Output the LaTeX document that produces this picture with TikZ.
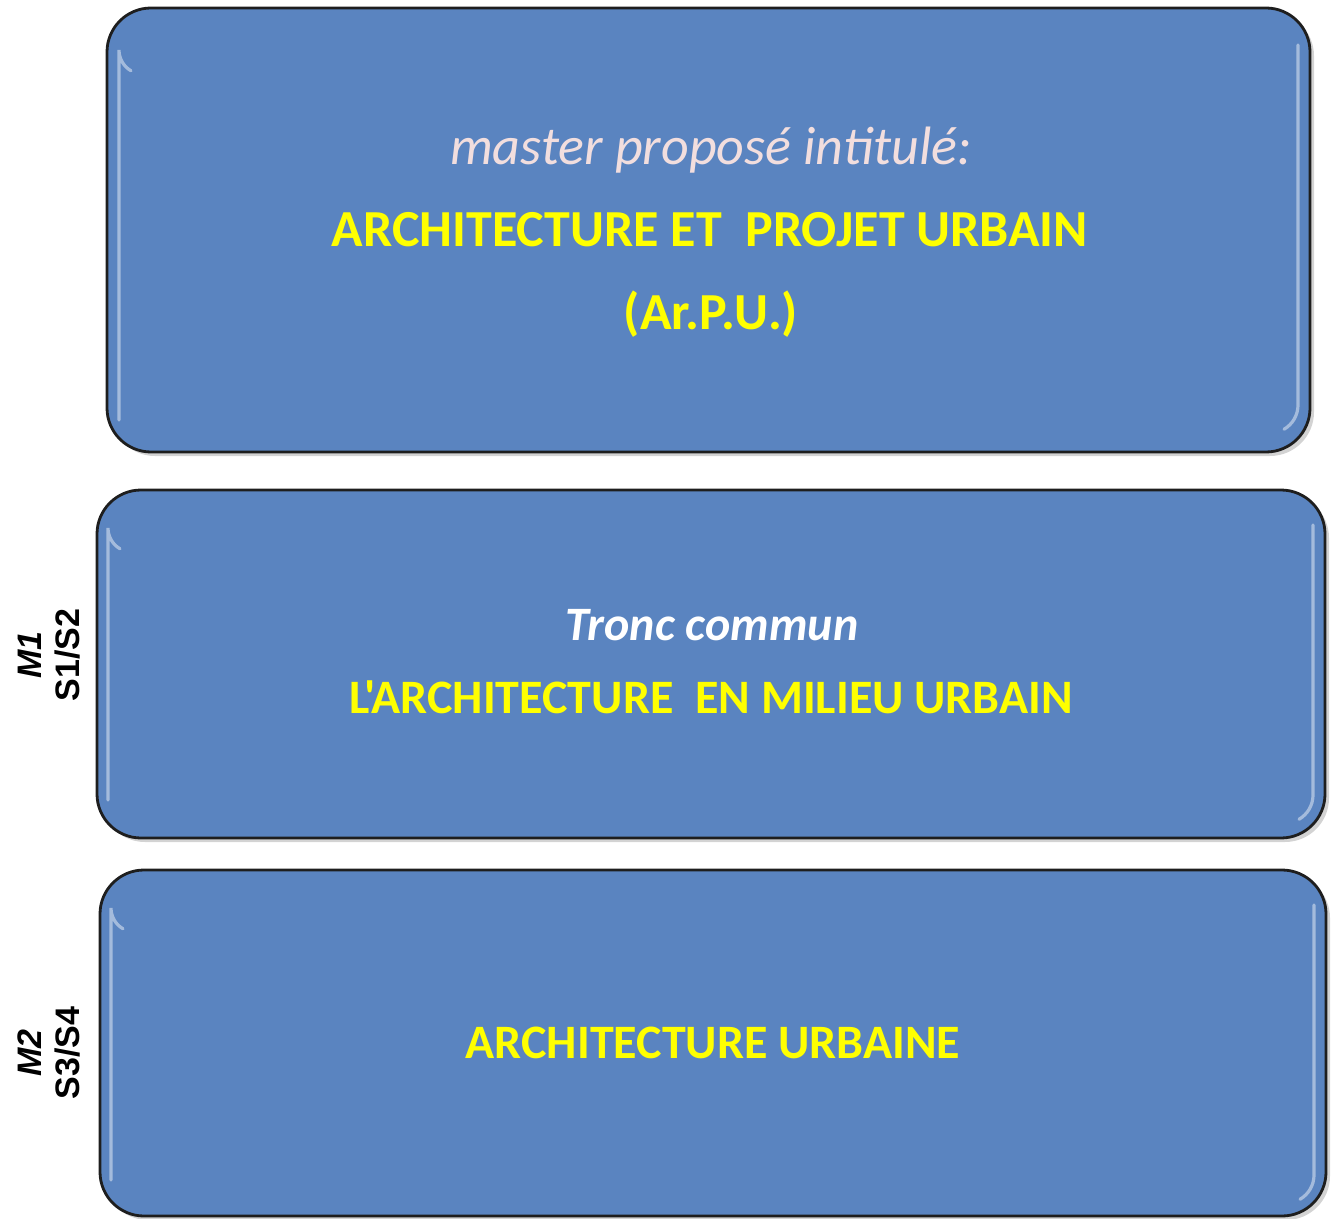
\documentclass[tikz,border=0pt]{standalone}
\usepackage{fontspec}
\setmainfont{Carlito}[Ligatures=TeXReset]
\newfontfamily\arialfont{Liberation Sans}
\usetikzlibrary{shadows}
\definecolor{boxblue}{RGB}{90,132,192}
\definecolor{boxedge}{RGB}{30,30,30}
\definecolor{pinktxt}{RGB}{242,222,222}
\definecolor{yellowtxt}{RGB}{255,255,0}
\tikzset{
  panel/.style={draw=boxedge, line width=1.4pt, fill=boxblue, rounded corners=22pt,
    drop shadow={opacity=0.35, shadow xshift=2pt, shadow yshift=-2pt}},
  gleam/.style={draw=white, line width=1.6pt, opacity=0.45, line cap=round},
  subtxt/.style={anchor=base, font=\fontsize{27}{30}\selectfont\itshape, text=pinktxt},
  bigtxt/.style={anchor=base, font=\fontsize{26}{30}\selectfont\bfseries, text=yellowtxt},
  maintxt/.style={anchor=base, font=\fontsize{24}{28}\selectfont\bfseries, text=yellowtxt},
  whitetxt/.style={anchor=base, font=\fontsize{24}{28}\selectfont\bfseries\itshape, text=white},
  sidetxt/.style={rotate=90, align=center, font=\arialfont\fontsize{17}{19}\selectfont\bfseries, text=black}
}
\begin{document}
\begin{tikzpicture}[x=0.5pt,y=-0.5pt]
\useasboundingbox (0,0) rectangle (1332,1219);
% panels
\node[panel, minimum width=601.5pt, minimum height=222pt] (top) at (708.5,230) {};
\node[panel, minimum width=614pt, minimum height=174pt] (mid) at (711,664) {};
\node[panel, minimum width=613pt, minimum height=173pt] (bot) at (713,1043) {};
% gleams
\draw[gleam] (119,420) -- (119,50) arc[start angle=180, end angle=120, radius=24];
\draw[gleam] (1298,45) -- (1298,405) arc[start angle=0, end angle=60, radius=28];
\draw[gleam] (108,800) -- (108,528) arc[start angle=180, end angle=120, radius=24];
\draw[gleam] (1313,525) -- (1313,795) arc[start angle=0, end angle=60, radius=28];
\draw[gleam] (111,1180) -- (111,908) arc[start angle=180, end angle=120, radius=24];
\draw[gleam] (1314,905) -- (1314,1175) arc[start angle=0, end angle=60, radius=28];
% texts
\node[subtxt] (t1) at (711,165) {master proposé intitulé:};
\node[bigtxt] (t2) at (710,247) {ARCHITECTURE ET~ PROJET URBAIN};
\node[bigtxt] (t3) at (711,330) {(Ar.P.U.)};
\node[whitetxt] (m1) at (712,640) {Tronc commun};
\node[maintxt] (m2) at (711,713) {L'ARCHITECTURE~ EN MILIEU URBAIN};
\node[maintxt] (b1) at (713,1058) {ARCHITECTURE URBAINE};
% side labels
\node[sidetxt] (s1) at (49,655) {\itshape M1\\S1/S2};
\node[sidetxt] (s2) at (49,1053) {\itshape M2\\S3/S4};
\end{tikzpicture}
\end{document}
